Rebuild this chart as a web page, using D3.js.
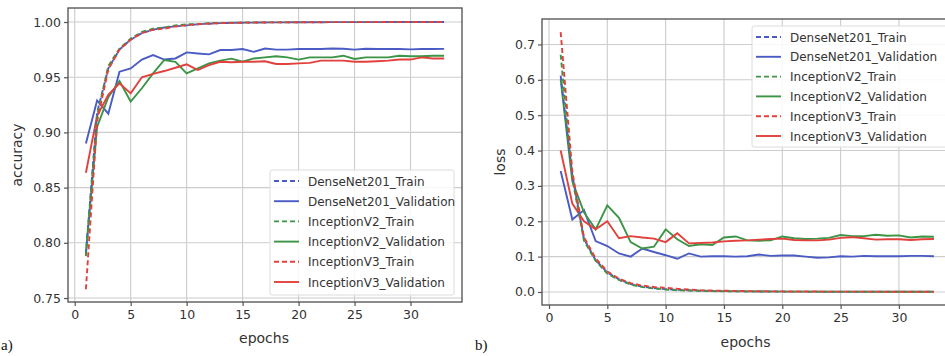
<!DOCTYPE html>
<html>
<head>
<meta charset="utf-8">
<script src="https://cdn.jsdelivr.net/npm/d3@7"></script>
<style>
  html, body { margin: 0; padding: 0; background: #fff; overflow: hidden; }
  svg { display: block; }
  .tick text { font-family: "DejaVu Sans", sans-serif; font-size: 12.5px; fill: #333; }
</style>
</head>
<body>
<svg id="chart" width="945" height="356"></svg>
<script>
// epochs on the x axis
const epochs = [1, 2, 3, 4, 5, 6, 7, 8, 9, 10, 11, 12, 13, 14, 15, 16, 17, 18, 19, 20,
  21, 22, 23, 24, 25, 26, 27, 28, 29, 30, 31, 32, 33];

const seriesNames = ['DenseNet201_Train', 'DenseNet201_Validation', 'InceptionV2_Train',
  'InceptionV2_Validation', 'InceptionV3_Train', 'InceptionV3_Validation'];

// accuracy (panel a)
const denseTrainAcc = [0.790, 0.918, 0.958, 0.975, 0.984, 0.990, 0.993, 0.995, 0.996, 0.997, 0.998,
  0.9985, 0.999, 0.9992, 0.9994, 0.9995, 0.9996, 0.9997, 0.9997, 0.9998, 0.9998, 0.9998, 0.9999,
  0.9999, 0.9999, 0.9999, 0.9999, 1.0, 1.0, 1.0, 1.0, 1.0, 1.0];
const denseValAcc = [0.890, 0.929, 0.917, 0.955, 0.958, 0.966, 0.970, 0.966, 0.967, 0.9725, 0.9715,
  0.9707, 0.9746, 0.9746, 0.9755, 0.973, 0.976, 0.975, 0.975, 0.9755, 0.9755, 0.9755, 0.976,
  0.9758, 0.975, 0.9758, 0.9755, 0.9755, 0.9755, 0.9752, 0.9755, 0.9755, 0.9757];
const v2TrainAcc = [0.788, 0.915, 0.960, 0.976, 0.985, 0.991, 0.994, 0.995, 0.997, 0.998, 0.998,
  0.999, 0.9992, 0.9993, 0.9995, 0.9996, 0.9997, 0.9997, 0.9998, 0.9998, 0.9999, 0.9999, 0.9999,
  0.9999, 1.0, 1.0, 1.0, 1.0, 1.0, 1.0, 1.0, 1.0, 1.0];
const v2ValAcc = [0.791, 0.905, 0.932, 0.9466, 0.928, 0.940, 0.9535, 0.9656, 0.964, 0.9535, 0.958,
  0.9626, 0.965, 0.9668, 0.964, 0.967, 0.968, 0.969, 0.968, 0.966, 0.968, 0.968, 0.968, 0.9695,
  0.9665, 0.968, 0.968, 0.968, 0.9695, 0.969, 0.969, 0.9695, 0.9695];
const v3TrainAcc = [0.758, 0.910, 0.957, 0.975, 0.984, 0.990, 0.993, 0.994, 0.996, 0.997, 0.998,
  0.9985, 0.999, 0.9992, 0.9994, 0.9995, 0.9996, 0.9997, 0.9997, 0.9998, 0.9998, 0.9998, 0.9999,
  0.9999, 0.9999, 0.9999, 1.0, 1.0, 1.0, 1.0, 1.0, 1.0, 1.0];
const v3ValAcc = [0.8635, 0.915, 0.934, 0.9445, 0.9354, 0.950, 0.953, 0.9556, 0.9586, 0.9617, 0.9565,
  0.961, 0.964, 0.9635, 0.964, 0.964, 0.9645, 0.962, 0.962, 0.9625, 0.963, 0.965, 0.965, 0.965,
  0.964, 0.964, 0.9645, 0.965, 0.966, 0.966, 0.968, 0.967, 0.967];

// loss (panel b)
const denseTrainLoss = [0.612, 0.330, 0.150, 0.090, 0.055, 0.036, 0.022, 0.015, 0.011, 0.008, 0.006,
  0.005, 0.004, 0.003, 0.0025, 0.002, 0.0018, 0.0015, 0.0013, 0.0012, 0.001, 0.001, 0.0009, 0.0008,
  0.0008, 0.0007, 0.0007, 0.0006, 0.0006, 0.0005, 0.0005, 0.0005, 0.0005];
const denseValLoss = [0.342, 0.205, 0.232, 0.144, 0.130, 0.109, 0.100, 0.123, 0.113, 0.104, 0.094,
  0.109, 0.100, 0.101, 0.101, 0.100, 0.101, 0.106, 0.102, 0.103, 0.103, 0.100, 0.097, 0.098, 0.101,
  0.100, 0.102, 0.101, 0.101, 0.101, 0.102, 0.102, 0.101];
const v2TrainLoss = [0.671, 0.320, 0.145, 0.088, 0.052, 0.034, 0.021, 0.014, 0.010, 0.007, 0.005,
  0.004, 0.003, 0.0025, 0.002, 0.0018, 0.0015, 0.0013, 0.0012, 0.001, 0.001, 0.0009, 0.0008, 0.0008,
  0.0007, 0.0007, 0.0006, 0.0006, 0.0005, 0.0005, 0.0005, 0.0005, 0.0005];
const v2ValLoss = [0.601, 0.313, 0.225, 0.177, 0.245, 0.210, 0.141, 0.123, 0.128, 0.177, 0.149,
  0.130, 0.135, 0.133, 0.154, 0.157, 0.146, 0.145, 0.146, 0.157, 0.152, 0.150, 0.151, 0.153, 0.161,
  0.158, 0.158, 0.162, 0.159, 0.160, 0.154, 0.157, 0.156];
const v3TrainLoss = [0.735, 0.340, 0.155, 0.095, 0.058, 0.038, 0.025, 0.018, 0.014, 0.012, 0.009,
  0.007, 0.005, 0.004, 0.0035, 0.003, 0.0025, 0.002, 0.0018, 0.0016, 0.0015, 0.0013, 0.0012, 0.0011,
  0.001, 0.001, 0.0009, 0.0009, 0.0008, 0.0008, 0.0008, 0.0008, 0.0008];
const v3ValLoss = [0.400, 0.250, 0.200, 0.177, 0.200, 0.152, 0.158, 0.154, 0.151, 0.141, 0.166,
  0.1375, 0.139, 0.140, 0.143, 0.145, 0.146, 0.148, 0.150, 0.151, 0.147, 0.146, 0.146, 0.148, 0.153,
  0.155, 0.152, 0.148, 0.149, 0.149, 0.147, 0.149, 0.150];

const accTicks = [0.75, 0.80, 0.85, 0.90, 0.95, 1.00];
const lossTicks = [0.0, 0.1, 0.2, 0.3, 0.4, 0.5, 0.6, 0.7];
const epochTicks = [0, 5, 10, 15, 20, 25, 30];

const colors = ['#4a5bc4', '#4a5bc4', '#3c9446', '#3c9446', '#e2403c', '#e2403c'];
const dashed = [true, false, true, false, true, false];

const svg = d3.select('#chart');

function drawPanel(opts) {
  const { left, right, top, bottom, xDomain, yDomain, yTicks, yFormat, series } = opts;

  const x = d3.scaleLinear().domain(xDomain).range([left, right]);
  const y = d3.scaleLinear().domain(yDomain).range([bottom, top]);

  const g = svg.append('g');

  // grid
  g.append('g').selectAll('line').data(epochTicks).join('line')
    .attr('x1', d => x(d)).attr('x2', d => x(d))
    .attr('y1', top).attr('y2', bottom)
    .attr('stroke', '#cccccc').attr('stroke-width', 1.1);
  g.append('g').selectAll('line').data(yTicks).join('line')
    .attr('x1', left).attr('x2', right)
    .attr('y1', d => y(d)).attr('y2', d => y(d))
    .attr('stroke', '#cccccc').attr('stroke-width', 1.1);

  // axes
  const xAxis = d3.axisBottom(x).tickValues(epochTicks).tickSize(4).tickPadding(4);
  const yAxis = d3.axisLeft(y).tickValues(yTicks).tickFormat(d3.format(yFormat)).tickSize(4).tickPadding(3);
  const xg = g.append('g').attr('transform', `translate(0,${bottom})`).call(xAxis);
  const yg = g.append('g').attr('transform', `translate(${left},0)`).call(yAxis);
  [xg, yg].forEach(a => {
    a.select('.domain').remove();
    a.selectAll('.tick line').attr('stroke', '#555').attr('stroke-width', 1.2);
  });

  // lines
  const line = d3.line()
    .x((d, i) => x(epochs[i]))
    .y(d => y(d));

  const plot = g.append('g');
  // validation first, train dashes on top
  const order = [1, 3, 5, 0, 2, 4];
  order.forEach(k => {
    plot.append('path')
      .datum(series[k])
      .attr('fill', 'none')
      .attr('stroke', colors[k])
      .attr('stroke-width', 1.9)
      .attr('stroke-dasharray', dashed[k] ? '5,3' : null)
      .attr('d', line);
  });

  // frame
  g.append('rect')
    .attr('x', left).attr('y', top)
    .attr('width', right - left).attr('height', bottom - top)
    .attr('fill', 'none').attr('stroke', '#4d4d4d').attr('stroke-width', 1.3);

  // legend
  const lg = opts.legend;
  const leg = g.append('g');
  leg.append('rect')
    .attr('x', lg.x).attr('y', lg.y)
    .attr('width', lg.w).attr('height', lg.h)
    .attr('rx', 2)
    .attr('fill', 'rgba(255,255,255,0.85)')
    .attr('stroke', '#dcdcdc');
  seriesNames.forEach((name, k) => {
    const ry = lg.y + 11 + k * lg.step;
    leg.append('line')
      .attr('x1', lg.x + 4).attr('x2', lg.x + 29)
      .attr('y1', ry).attr('y2', ry)
      .attr('stroke', colors[k]).attr('stroke-width', 1.9)
      .attr('stroke-dasharray', dashed[k] ? '5,3' : null);
    leg.append('text')
      .attr('x', lg.x + 38).attr('y', ry + 4.5)
      .attr('font-family', '"DejaVu Sans", sans-serif')
      .attr('font-size', 12)
      .attr('fill', '#333')
      .text(name);
  });

  // axis titles
  g.append('text')
    .attr('x', (left + Math.min(right, 945)) / 2 + opts.xLabelShift).attr('y', opts.xLabelY)
    .attr('text-anchor', 'middle')
    .attr('font-family', '"DejaVu Sans", sans-serif').attr('font-size', 14).attr('fill', '#333')
    .text('epochs');
  g.append('text')
    .attr('transform', `translate(${opts.yLabelX},${(top + bottom) / 2}) rotate(-90)`)
    .attr('text-anchor', 'middle')
    .attr('font-family', '"DejaVu Sans", sans-serif').attr('font-size', 14).attr('fill', '#333')
    .text(opts.yLabel);

  // panel letter
  g.append('text')
    .attr('x', opts.letterX).attr('y', 350)
    .attr('font-family', '"Liberation Serif", "Times New Roman", serif')
    .attr('font-size', 15).attr('fill', '#111')
    .text(opts.letter);
}

drawPanel({
  left: 68, right: 462, top: 8, bottom: 302,
  xDomain: [-0.6, 34.6], yDomain: [0.7464, 1.0127],
  yTicks: accTicks, yFormat: '.2f',
  series: [denseTrainAcc, denseValAcc, v2TrainAcc, v2ValAcc, v3TrainAcc, v3ValAcc],
  legend: { x: 270, y: 170, w: 184, h: 125, step: 20.2 },
  yLabel: 'accuracy', yLabelX: 22, xLabelY: 343, xLabelShift: -1,
  letter: 'a)', letterX: 1
});

drawPanel({
  left: 542, right: 952.6, top: 19, bottom: 305,
  xDomain: [-0.6, 34.6], yDomain: [-0.0368, 0.772],
  yTicks: lossTicks, yFormat: '.1f',
  series: [denseTrainLoss, denseValLoss, v2TrainLoss, v2ValLoss, v3TrainLoss, v3ValLoss],
  legend: { x: 752, y: 26, w: 200, h: 121, step: 19.8 },
  yLabel: 'loss', yLabelX: 505, xLabelY: 347, xLabelShift: 2,
  letter: 'b)', letterX: 475
});
</script>
</body>
</html>
